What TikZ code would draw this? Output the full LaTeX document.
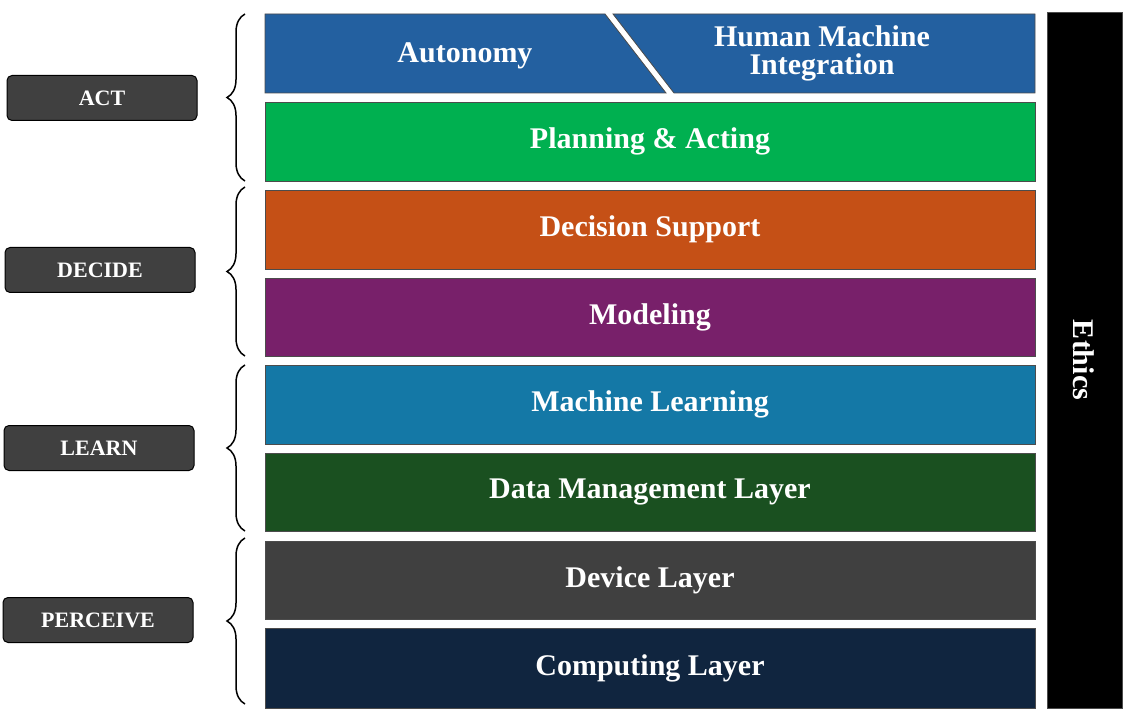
\documentclass[tikz,border=0pt]{standalone}
\usepackage{fontspec}
\setmainfont{Liberation Serif}
\usetikzlibrary{decorations.pathreplacing}
\definecolor{cAut}{HTML}{2360A0}
\definecolor{cPlan}{HTML}{00B050}
\definecolor{cDec}{HTML}{C55016}
\definecolor{cMod}{HTML}{78206A}
\definecolor{cML}{HTML}{1478A6}
\definecolor{cData}{HTML}{1A5020}
\definecolor{cDev}{HTML}{404040}
\definecolor{cComp}{HTML}{10253F}
\definecolor{cLab}{HTML}{404040}
\begin{document}
\begin{tikzpicture}[x=1pt,y=-1pt,
  bar/.style={draw=black!70,line width=0.8pt},
  bartext/.style={text=white,font=\bfseries\fontsize{30}{34}\selectfont,align=center},
  lab/.style={draw=black,line width=1pt,fill=cLab,rounded corners=5pt,minimum width=190pt,minimum height=45pt,text=white,font=\bfseries\fontsize{22}{26}\selectfont},
  br/.style={draw=black,line width=1.5pt,decorate,decoration={brace,amplitude=18pt}}]
\useasboundingbox (0,0) rectangle (1125,719);
% row 1
\path[bar,fill=cAut] (265,14) -- (605,14) -- (666,93) -- (265,93) -- cycle;
\path[bar,fill=cAut] (613,14) -- (1035,14) -- (1035,93) -- (674,93) -- cycle;
\node[bartext] (aut) at (465,56) {Autonomy};
\node[bartext] (hmi) at (822,53) {Human Machine\\[-6pt]Integration};
\foreach \n/\c/\t/\ya/\yb in {plan/cPlan/Planning \& Acting/102/181, dec/cDec/Decision Support/190/269, mod/cMod/Modeling/278/356, ml/cML/Machine Learning/365/444, data/cData/Data Management Layer/453/531, dev/cDev/Device Layer/541/619, comp/cComp/Computing Layer/628/708}{
  \path[bar,fill=\c] (265,\ya) rectangle (1035,\yb);
  \node[bartext] (\n) at (650,{(\ya+\yb)/2}) {\t};
}
% ethics
\path[fill=black,draw=black!70] (1047,12) rectangle (1122,708);
\node[text=white,font=\bfseries\fontsize{30}{34}\selectfont,rotate=-90] (eth) at (1084,360) {Ethics};
% labels
\node[lab] (act) at (102,98) {ACT};
\node[lab] (decide) at (100,270) {DECIDE};
\node[lab] (learn) at (99,448) {LEARN};
\node[lab] (perc) at (98,620) {PERCEIVE};
% braces
\draw[br] (245,181) -- (245,14);
\draw[br] (245,356) -- (245,187);
\draw[br] (245,531) -- (245,365);
\draw[br] (245,704) -- (245,538);
\end{tikzpicture}
\end{document}
